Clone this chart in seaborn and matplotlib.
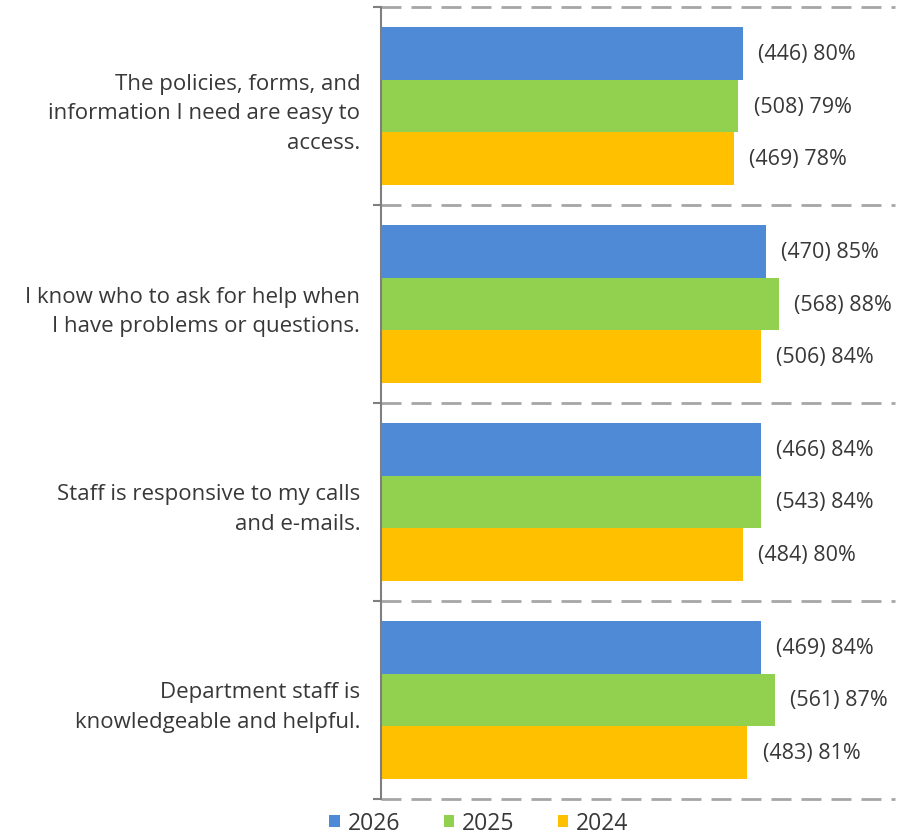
import matplotlib
matplotlib.use("Agg")
import matplotlib.pyplot as plt
from matplotlib.patches import Patch
import seaborn as sns
import pandas as pd

# Survey statements (top to bottom)
statements = [
    "The policies, forms, and\ninformation I need are easy to\naccess.",
    "I know who to ask for help when\nI have problems or questions.",
    "Staff is responsive to my calls\nand e-mails.",
    "Department staff is\nknowledgeable and helpful.",
]
years = ["2026", "2025", "2024"]

# Share agreeing (%) and respondent counts per year
pct_2026 = [80, 85, 84, 84]
pct_2025 = [79, 88, 84, 87]
pct_2024 = [78, 84, 80, 81]
n_2026 = [446, 470, 466, 469]
n_2025 = [508, 568, 543, 561]
n_2024 = [469, 506, 484, 483]

colors = {"2026": "#4F8AD6", "2025": "#92D050", "2024": "#FFC000"}
text_color = "#383838"
font_size = 16

rows = []
for yr, pcts, ns in [("2026", pct_2026, n_2026), ("2025", pct_2025, n_2025), ("2024", pct_2024, n_2024)]:
    for st, p, n in zip(statements, pcts, ns):
        rows.append({"statement": st, "year": yr, "pct": p, "n": n})
df = pd.DataFrame(rows)

sns.set_theme(style="white")
plt.rcParams["font.family"] = ["Open Sans", "DejaVu Sans"]

fig = plt.figure(figsize=(9.17, 8.37), dpi=100)
ax = fig.add_axes([381 / 917, 1 - 800 / 837, (895 - 381) / 917, (800 - 8) / 837])

sns.barplot(data=df, y="statement", x="pct", hue="year", hue_order=years,
            order=statements, palette=colors, orient="h", width=0.8,
            saturation=1, linewidth=0, legend=False, ax=ax)

ax.set_xlim(0, 113.6)
ax.set_ylim(len(statements) - 0.5, -0.5)

# Value labels: "(n) pct%"
for container, yr in zip(ax.containers, years):
    sub = df[df["year"] == yr].set_index("statement").loc[statements]
    labels = [f"({n}) {p}%" for n, p in zip(sub["n"], sub["pct"])]
    ax.bar_label(container, labels=labels, padding=11, fontsize=font_size - 0.5, color=text_color)

# Dashed separators between statement groups
for b in [i - 0.5 for i in range(len(statements) + 1)]:
    ax.axhline(b, color="#A6A6A6", lw=2, ls=(0, (7.2, 3.6)), zorder=0, clip_on=False)

for side in ["top", "right", "bottom"]:
    ax.spines[side].set_visible(False)
ax.spines["left"].set_color("#7F7F7F")
ax.spines["left"].set_linewidth(1.5)

ax.set_xticks([])
ax.set_xlabel("")
ax.set_ylabel("")
ax.set_yticks(range(len(statements)))
ax.set_yticklabels(statements, fontsize=font_size, color=text_color, linespacing=1.55)
ax.tick_params(axis="y", which="major", length=0, pad=15)
ax.set_yticks([i - 0.5 for i in range(len(statements) + 1)], minor=True)
ax.tick_params(axis="y", which="minor", length=6, width=1.5, color="#7F7F7F", left=True)

handles = [Patch(facecolor=colors[y], edgecolor="none", label=y) for y in years]
fig.legend(handles=handles, loc="center", bbox_to_anchor=(479 / 917, 1 - 824 / 837),
           ncol=3, frameon=False, fontsize=font_size + 0.5, handlelength=0.45, handleheight=0.45,
           handletextpad=0.35, columnspacing=1.9, labelcolor=text_color,
           borderpad=0.1, borderaxespad=0)

fig.savefig("out.png", dpi=100)
